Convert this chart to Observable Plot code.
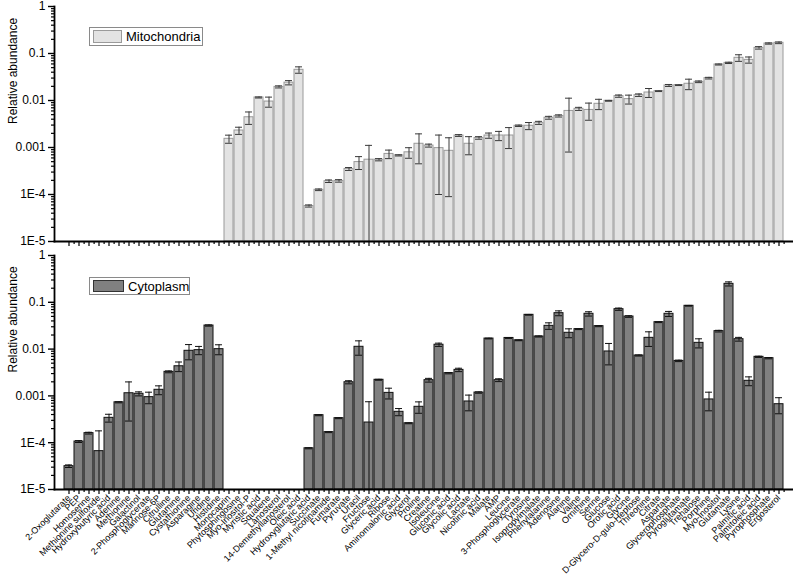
<!DOCTYPE html>
<html>
<head>
<meta charset="utf-8">
<script src="https://cdn.jsdelivr.net/npm/d3@7"></script>
<script src="https://cdn.jsdelivr.net/npm/@observablehq/plot@0.6"></script>
<style>
  body { margin: 0; background: #fff; font-family: "Liberation Sans", Arial, sans-serif; }
  #wrap { position: relative; width: 793px; height: 577px; }
  #wrap svg { display: block; }
  .legend { position: absolute; border: 1px solid #8a8a8a; background: #fff; box-sizing: border-box;
            font: 13px "Liberation Sans", Arial, sans-serif; color: #000; }
  .legend .sw { position: absolute; box-sizing: border-box; }
  .legend .tx { position: absolute; white-space: nowrap; }
</style>
</head>
<body>
<div id="wrap"></div>
<script>
const categories = ["2-Oxoglutarate","PEP","Homoserine","Methionine sulfoxide","Hydroxybutyric acid","Adenine","Methionine","Galactinol","2-Phosphoglycerate","Mannose-6P","Citrulline","Glutamine","Cystathionine","Asparagine","Uridine","Histidine","Monocaprin","Phytosphingosine","Myo-Inositol-P","Myristic acid","Squalene","Lanosterol","14-Demethyllanosterol","Oleic acid","Hydroxyglutaric acid","Succinate","1-Methyl nicotinamide","Fumarate","Pyruvate","Uracil","Fructose","Glyceric acid","Ribose","Aminomalonic acid","Glycerol","Proline","Creatine","Isoleucine","Gluconic acid","Glycolic acid","Lactate","Nicotinic acid","Malate","AMP","Leucine","3-Phosphoglycerate","Tyrosine","Isopropylmalate","Phenylalanine","Adenosine","Alanine","Valine","Ornithine","Serine","Glucose","Orotic acid","Glycine","D-Glycero-D-gulo-Heptose","Threonine","Citrate","Aspartate","Glycerophosphate","Pyroglutamate","Trehalose","Porphine","Myo-Inositol","Glutamate","Lysine","Palmitic acid","Palmitoleic acid","Pyrophosphate","Ergosterol"];

const mitoValues = [null,null,null,null,null,null,null,null,null,null,null,null,null,null,null,null,
  1.53e-3,2.3e-3,4.4e-3,0.0116,0.0095,0.0195,0.024,0.045,
  5.7e-5,1.26e-4,1.92e-4,1.95e-4,3.5e-4,4.9e-4,5.5e-4,5.5e-4,7.3e-4,6.8e-4,7.9e-4,1.2e-3,1.1e-3,9.7e-4,8.5e-4,1.8e-3,1.2e-3,1.6e-3,1.8e-3,1.8e-3,1.8e-3,
  2.9e-3,2.9e-3,3.35e-3,4.3e-3,4.7e-3,6.0e-3,6.65e-3,6.3e-3,8.5e-3,9.85e-3,0.0124,0.0107,0.013,0.0148,0.0158,0.0209,0.0212,0.0227,0.025,0.0299,0.0583,0.0632,0.081,0.0733,0.132,0.163,0.169];
const mitoErrors = [null,null,null,null,null,null,null,null,null,null,null,null,null,null,null,null,
  3e-4,4e-4,1.3e-3,3e-4,2.3e-3,1e-3,2.5e-3,7e-3,
  3e-6,5e-6,1.2e-5,1.2e-5,2.5e-5,1.5e-4,5.6e-4,3e-5,1.5e-4,2e-5,2e-4,7.5e-4,8e-5,8.7e-4,7.6e-4,8e-5,5e-4,1e-4,2.3e-4,4e-4,8.5e-4,
  1e-4,5e-4,2.5e-4,3e-4,2.5e-4,5.2e-3,5e-4,2.5e-3,2.1e-3,2e-4,7e-4,2.3e-3,8e-4,3.2e-3,3e-4,1e-3,4e-4,5.7e-3,1e-3,1.2e-3,1.5e-3,2e-3,0.013,0.011,0.008,0.005,0.007];

const cytoValues = [3.15e-5,1.06e-4,1.6e-4,6.6e-5,3.4e-4,7.3e-4,1.14e-3,1.11e-3,9.4e-4,1.35e-3,3.27e-3,4.3e-3,9.2e-3,9.5e-3,0.0319,9.97e-3,
  null,null,null,null,null,null,null,null,
  7.6e-5,3.87e-4,1.68e-4,3.34e-4,1.96e-3,0.0112,2.7e-4,2.21e-3,1.16e-3,4.57e-4,2.6e-4,5.85e-4,2.17e-3,0.0124,3.06e-3,3.6e-3,7.6e-4,1.18e-3,0.0168,2.17e-3,0.0173,
  0.0154,0.054,0.0186,0.0314,0.0586,0.0223,0.0267,0.0568,0.0309,8.9e-3,0.0713,0.0497,7.3e-3,0.0174,0.0376,0.0568,5.6e-3,0.0842,0.0136,8.4e-4,0.0242,0.248,0.0163,2.1e-3,6.84e-3,6.4e-3,6.65e-4];
const cytoErrors = [2e-6,5e-6,7e-6,1.13e-4,6.5e-5,2e-5,8.5e-4,1.1e-4,2.6e-4,2.9e-4,1.5e-4,1e-3,3.3e-3,1.9e-3,1e-3,2.4e-3,
  null,null,null,null,null,null,null,null,
  2e-6,1e-5,4e-6,8e-6,1.5e-4,3.8e-3,4.8e-4,5e-5,3e-4,8e-5,6e-6,1.6e-4,2e-4,1e-3,1e-4,3e-4,2.8e-4,4e-5,3e-4,1.5e-4,4e-4,
  3e-4,1e-3,5e-4,5e-3,7e-3,4.8e-3,6e-4,6e-3,8e-4,4.3e-3,4e-3,2e-3,2e-4,6e-3,8e-4,7e-3,2e-4,1.5e-3,3e-3,3.6e-4,1e-3,0.025,1.5e-3,4.5e-4,2e-4,2e-4,2.5e-4];

const yTitle = "Relative abundance";
const yDomain = [1e-5, 1];
const majorTicks = [1e-5, 1e-4, 1e-3, 1e-2, 1e-1, 1];
const majorLabels = ["1E-5", "1E-4", "0.001", "0.01", "0.1", "1"];
const minorTicks = [];
for (let e = -5; e < 0; e++) for (let k = 2; k <= 9; k++) minorTicks.push(k * Math.pow(10, e));

const W = 793, ML = 54, MR = 1;
const padInner = 0.12, padOuter = 0.1;
const step = (W - ML - MR) / (categories.length - padInner + 2 * padOuter);

function rows(vals, errs) {
  return categories.map((c, i) => ({c, v: vals[i], e: errs[i]}))
    .filter(d => d.v != null)
    .map(d => ({...d, hi: d.v + d.e, lo: Math.max(d.v - d.e, yDomain[0]), loCap: d.v - d.e > yDomain[0]}));
}

function panel({data, height, marginTop, marginBottom, fill, stroke, errColor, showLabels}) {
  return Plot.plot({
    width: W, height, marginLeft: ML, marginRight: MR, marginTop, marginBottom,
    style: {fontFamily: "'Liberation Sans', Arial, sans-serif", color: "#000", background: "#fff"},
    x: {domain: categories, paddingInner: padInner, paddingOuter: padOuter, label: null},
    y: {type: "log", domain: yDomain, label: null},
    marks: [
      Plot.barY(data, {x: "c", y1: () => yDomain[0], y2: "v", fill, stroke, strokeWidth: 1}),
      Plot.ruleX(data, {x: "c", y1: "lo", y2: "hi", stroke: errColor, strokeWidth: 1}),
      Plot.tickY(data, {x: "c", y: "hi", stroke: errColor, strokeWidth: 1, insetLeft: 1, insetRight: 1}),
      Plot.tickY(data.filter(d => d.loCap), {x: "c", y: "lo", stroke: errColor, strokeWidth: 1, insetLeft: 1, insetRight: 1}),
      Plot.axisY({ticks: minorTicks, tickSize: 3, tickFormat: () => "", strokeWidth: 1.2, label: null}),
      Plot.axisY({ticks: majorTicks, tickSize: 6, tickPadding: 3, fontSize: 12,
        tickFormat: d => majorLabels[majorTicks.indexOf(d)], strokeWidth: 1.4, label: null}),
      Plot.text([yTitle], {frameAnchor: "left", rotate: -90, dx: -41, fontSize: 12, text: d => d}),
      Plot.axisX({tickSize: 5, strokeWidth: 1.2, fontSize: 9, tickRotate: showLabels ? -45 : 0,
        tickPadding: 2, tickFormat: showLabels ? d => d : () => "", label: null}),
      Plot.axisX({tickSize: 3, strokeWidth: 1.2, dx: step / 2, tickFormat: () => "", label: null}),
      Plot.frame({anchor: "left", strokeWidth: 1.8}),
      Plot.frame({anchor: "bottom", strokeWidth: 1.8})
    ]
  });
}

const wrap = document.getElementById("wrap");
wrap.appendChild(panel({data: rows(mitoValues, mitoErrors), height: 248, marginTop: 6, marginBottom: 7,
  fill: "#e3e3e3", stroke: "#9a9a9a", errColor: "#3a3a3a", showLabels: false}));
wrap.appendChild(panel({data: rows(cytoValues, cytoErrors), height: 329, marginTop: 7, marginBottom: 88,
  fill: "#808080", stroke: "#111", errColor: "#111", showLabels: true}));

function legend(label, left, top, w, h, swFill, swStroke, swW, swH) {
  const box = document.createElement("div");
  box.className = "legend";
  Object.assign(box.style, {left: left + "px", top: top + "px", width: w + "px", height: h + "px"});
  const sw = document.createElement("div");
  sw.className = "sw";
  Object.assign(sw.style, {left: "3px", top: ((h - 2 - swH) / 2) + "px", width: swW + "px", height: swH + "px",
    background: swFill, border: "1px solid " + swStroke});
  const tx = document.createElement("div");
  tx.className = "tx";
  tx.textContent = label;
  Object.assign(tx.style, {left: (swW + 7) + "px", top: ((h - 2 - 15) / 2) + "px", lineHeight: "15px"});
  box.appendChild(sw); box.appendChild(tx);
  wrap.appendChild(box);
}
legend("Mitochondria", 89, 27, 114, 19, "#e3e3e3", "#9a9a9a", 29, 13);
legend("Cytoplasm", 89, 277, 101, 18, "#808080", "#333", 31, 12);
</script>
</body>
</html>
